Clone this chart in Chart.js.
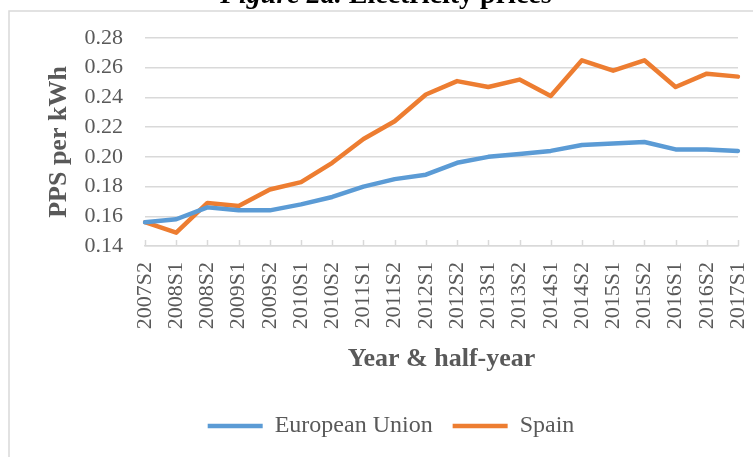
<!DOCTYPE html>
<html>
<head>
<meta charset="utf-8">
<script src="https://cdn.jsdelivr.net/npm/chart.js@4/dist/chart.umd.min.js"></script>
<style>
  html, body { margin: 0; padding: 0; background: #fff; }
  #wrap { width: 753px; height: 457px; }
</style>
</head>
<body>
<div id="wrap"><canvas id="chart" width="753" height="457"></canvas></div>
<script>
// half-year periods on the x axis
const periods = ['2007S2', '2008S1', '2008S2', '2009S1', '2009S2', '2010S1', '2010S2',
    '2011S1', '2011S2', '2012S1', '2012S2', '2013S1', '2013S2', '2014S1', '2014S2',
    '2015S1', '2015S2', '2016S1', '2016S2', '2017S1'];

// PPS per kWh
const euPrices = [0.156, 0.158, 0.166, 0.164, 0.164, 0.168, 0.173, 0.180, 0.185, 0.188,
    0.196, 0.200, 0.202, 0.204, 0.208, 0.209, 0.210, 0.205, 0.205, 0.204];
const spainPrices = [0.156, 0.149, 0.169, 0.167, 0.178, 0.183, 0.196, 0.212, 0.224, 0.242,
    0.251, 0.247, 0.252, 0.241, 0.265, 0.258, 0.265, 0.247, 0.256, 0.254];

const yTicks = { min: 0.14, max: 0.28, step: 0.02 };

const serif = '"Liberation Serif", "Times New Roman", serif';
const grey = '#595959';
const gridGrey = '#d9d9d9';

// frame + title that sits half outside the picture
const framePlugin = {
    id: 'frame',
    beforeDraw(chart) {
        const ctx = chart.ctx;
        ctx.save();
        ctx.fillStyle = '#fff';
        ctx.fillRect(0, 0, chart.width, chart.height);
        ctx.strokeStyle = gridGrey;
        ctx.lineWidth = 1.5;
        ctx.strokeRect(9, 11, 800, 500);
        ctx.restore();
    },
    afterDraw(chart) {
        const ctx = chart.ctx;
        ctx.save();
        ctx.fillStyle = '#000';
        ctx.textBaseline = 'alphabetic';
        const part1 = 'Figure 2a.';
        const part2 = ' Electricity prices';
        ctx.font = 'italic bold 28px ' + serif;
        const w1 = ctx.measureText(part1).width;
        ctx.font = 'bold 28px ' + serif;
        const w2 = ctx.measureText(part2).width;
        const x0 = 386 - (w1 + w2) / 2;
        ctx.font = 'italic bold 28px ' + serif;
        ctx.fillText(part1, x0, 3);
        ctx.font = 'bold 28px ' + serif;
        ctx.fillText(part2, x0 + w1, 3);
        ctx.restore();
    }
};

// small tick marks pointing up from the category axis
const innerTicks = {
    id: 'innerTicks',
    beforeDatasetsDraw(chart) {
        const xs = chart.scales.x;
        const ctx = chart.ctx;
        ctx.save();
        ctx.strokeStyle = gridGrey;
        ctx.lineWidth = 1.5;
        ctx.beginPath();
        xs.ticks.forEach((t, i) => {
            const x = Math.round(xs.getPixelForTick(i)) + 0.5;
            ctx.moveTo(x, xs.top - 6);
            ctx.lineTo(x, xs.top);
        });
        ctx.stroke();
        ctx.restore();
    }
};

new Chart(document.getElementById('chart'), {
    type: 'line',
    data: {
        labels: periods,
        datasets: [
            {
                label: 'European Union',
                data: euPrices,
                borderColor: '#5b9bd5',
                backgroundColor: '#5b9bd5',
                borderWidth: 4.5,
                pointRadius: 0,
                borderJoinStyle: 'round',
                borderCapStyle: 'round',
                tension: 0
            },
            {
                label: 'Spain',
                data: spainPrices,
                borderColor: '#ed7d31',
                backgroundColor: '#ed7d31',
                borderWidth: 4.5,
                pointRadius: 0,
                borderJoinStyle: 'round',
                borderCapStyle: 'round',
                tension: 0
            }
        ]
    },
    options: {
        responsive: false,
        animation: false,
        layout: { padding: { left: 44, right: 15, top: 38, bottom: 9 } },
        plugins: {
            legend: {
                position: 'bottom',
                labels: {
                    usePointStyle: true,
                    pointStyle: 'line',
                    pointStyleWidth: 55,
                    padding: 20,
                    color: grey,
                    font: { family: serif, size: 24 }
                }
            },
            tooltip: { enabled: false }
        },
        scales: {
            x: {
                offset: false,
                grid: { display: false, drawTicks: false },
                border: { display: true, color: gridGrey, width: 1.5 },
                ticks: {
                    autoSkip: false,
                    minRotation: 90,
                    maxRotation: 90,
                    padding: 16,
                    color: grey,
                    font: { family: serif, size: 22 }
                },
                title: {
                    display: true,
                    text: 'Year & half-year',
                    color: grey,
                    font: { family: serif, size: 26, weight: 'bold' },
                    padding: { top: 0, bottom: 19 }
                },
                afterFit(scale) {
                    scale.height = 148;
                    scale.paddingLeft = 0;
                    scale.paddingRight = 0;
                }
            },
            y: {
                min: yTicks.min,
                max: yTicks.max,
                grid: { color: gridGrey, lineWidth: 1.5, drawTicks: false },
                border: { display: false },
                ticks: {
                    stepSize: yTicks.step,
                    autoSkip: false,
                    padding: 22,
                    color: grey,
                    font: { family: serif, size: 22 },
                    callback: v => v.toFixed(2)
                },
                title: {
                    display: true,
                    text: 'PPS per kWh',
                    color: grey,
                    font: { family: serif, size: 26, weight: 'bold' },
                    padding: { top: 0, bottom: 0 }
                },
                afterFit(scale) { scale.width = 101; }
            }
        }
    },
    plugins: [framePlugin, innerTicks]
});
</script>
</body>
</html>
